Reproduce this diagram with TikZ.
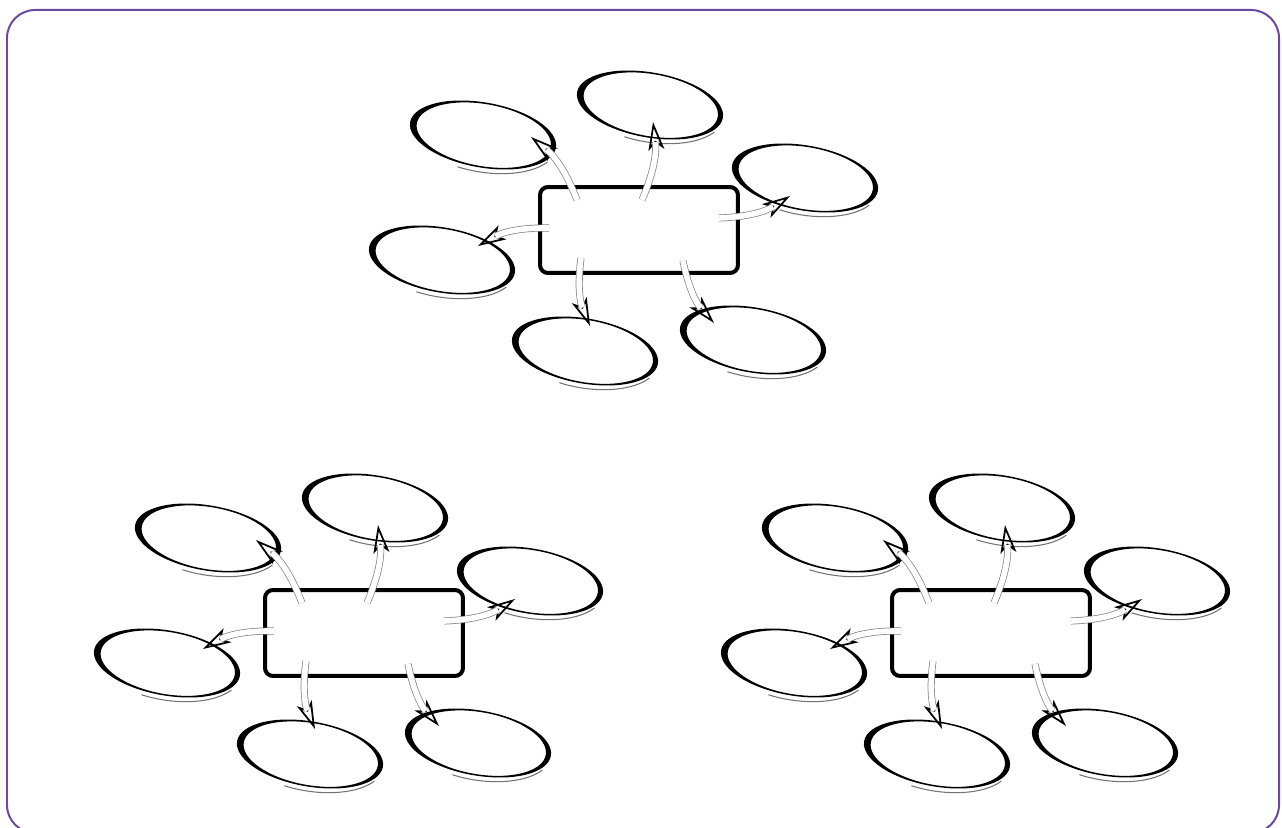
\documentclass[tikz,border=0pt]{standalone}
\usetikzlibrary{arrows.meta}
\definecolor{marco}{RGB}{106,74,160}
\tikzset{caja/.style={draw, line width=0.08cm, rounded corners=0.16cm, minimum width=3.96cm, minimum height=1.72cm, inner sep=0pt},
  cuerpo/.style={draw=black!50, line width=0.4pt, double=white, double distance=3.2pt, shorten >=0.4cm},
  punta/.style={draw=white, line width=0.4pt, -{Stealth[open, color=black, line width=1pt, length=0.56cm, width=0.32cm, inset=0.14cm]}},
  cola/.style={draw=black!55, line width=0.6pt, line cap=round}}

\begin{document}
\begin{tikzpicture}[x=0.02cm, y=-0.02cm]
  \useasboundingbox (0,0) rectangle (1282,828);
  % Marco
  \draw[marco, line width=0.04cm, rounded corners=0.56cm] (7,10) rectangle (1279,833);
  % Grupos
  \foreach \gx/\gy/\g in {639/230/a, 364/633/b, 991/633/c}{
    \begin{scope}[shift={(\gx,\gy)}]
      % Burbujas
      \foreach \n/\px/\py in {ul/-156/-95, t/11/-125, r/166/-52, l/-197/30, b/-54/121, br/114/110}{
        \begin{scope}[shift={(\px,\py)}, rotate=-10]
          \fill[even odd rule] (0,0) ellipse (74 and 32.5) (0.8,0) ellipse (68 and 31);
          \draw[cola] (25:75 and 37) arc[start angle=25, end angle=105, x radius=75, y radius=37];
          \coordinate (\g-\n) at (0,0);
        \end{scope}
      }
      % Caja
      \node[caja] (\g-caja) at (0,0) {};
      % Flechas
      \foreach \n/\sx/\sy/\tx/\ty in {ul/-62/-30/-108/-93, t/3/-30/14/-108, r/80/-12/151/-34,
          l/-90/-2/-161/16, b/-58/28/-49/96, br/44/31/75/93}{
        \coordinate (\g-s\n) at (\sx,\sy);
        \coordinate (\g-t\n) at (\tx,\ty);
        \draw[punta] (\g-s\n) to[bend right=15] (\g-t\n);
        \draw[cuerpo] (\g-s\n) to[bend right=15] (\g-t\n);
      }
    \end{scope}
  }
\end{tikzpicture}
\end{document}
